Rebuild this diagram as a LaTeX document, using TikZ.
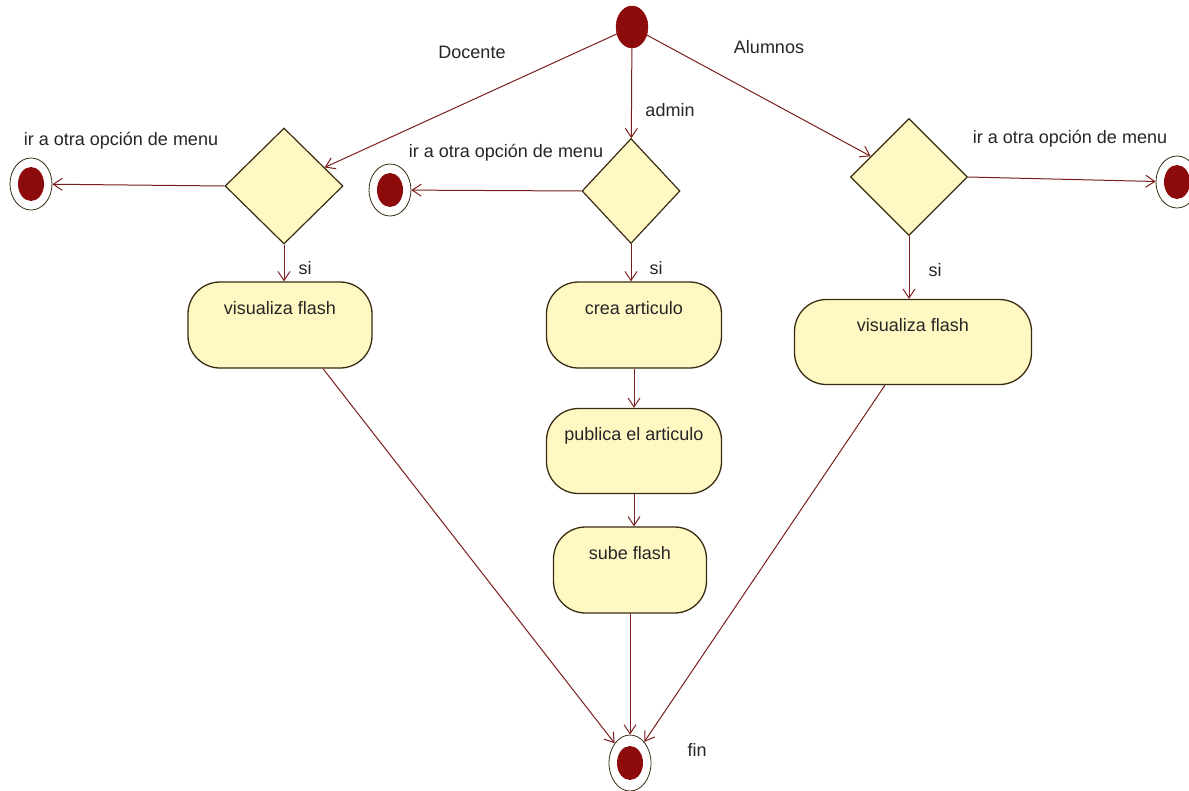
\documentclass[tikz,border=0pt]{standalone}
\usepackage{fontspec}
\setmainfont{Liberation Sans}
\usetikzlibrary{shapes.geometric,arrows.meta,calc}
\definecolor{edgec}{HTML}{7B1E1E}
\definecolor{bordc}{HTML}{3A2C14}
\definecolor{fillc}{HTML}{FFF8C2}
\definecolor{dotc}{HTML}{8E0B0B}
\definecolor{textc}{HTML}{262626}
\tikzset{
  flow/.style={draw=edgec, line width=1pt, -{Straight Barb[length=9pt,width=12pt,line width=1pt]}},
  act/.style={draw=bordc, fill=fillc, line width=1.3pt, rounded corners=32pt, minimum height=86pt, text height=13pt, text depth=34pt, inner xsep=0pt, text=textc},
  dec/.style={diamond, draw=bordc, fill=fillc, line width=1.2pt, inner sep=0pt},
  startnode/.style={ellipse, fill=dotc, draw=dotc, minimum width=32pt, minimum height=42pt, inner sep=0pt},
  endouter/.style={ellipse, draw=bordc, fill=white, line width=0.8pt, minimum width=42pt, minimum height=52pt, inner sep=0pt},
  enddot/.style={ellipse, fill=dotc, minimum width=26pt, minimum height=34pt, inner sep=0pt},
  lbl/.style={text=textc, inner sep=0pt}
}
\begin{document}
\begin{tikzpicture}[x=1pt,y=-1pt,font=\fontsize{18}{21}\selectfont]
\useasboundingbox[fill=white] (0,0) rectangle (1189,790);

% start
\node[startnode] (start) at (632,27) {};

% decisions
\node[dec, minimum width=118pt, minimum height=116pt] (ldia) at (284,186) {};
\node[dec, minimum width=98pt, minimum height=105pt] (mdia) at (631,191) {};
\node[dec, minimum width=117pt, minimum height=117pt] (rdia) at (909,177) {};

% final nodes
\node[endouter] (lfin) at (31,184) {};
\node[enddot] (lfindot) at (lfin) {};
\node[endouter] (mfin) at (390,190) {};
\node[enddot] (mfindot) at (mfin) {};
\node[endouter] (rfin) at (1177,182) {};
\node[enddot] (rfindot) at (rfin) {};
\node[endouter, minimum height=56pt] (fin) at (630,763) {};
\node[enddot] (findot) at (fin) {};

% actions
\node[act, minimum width=184pt] (lvis) at (280,325) {visualiza flash};
\node[act, minimum width=175pt] (crea) at (634,325) {crea articulo};
\node[act, minimum width=175pt, minimum height=85pt] (pub) at (634,451) {publica el articulo};
\node[act, minimum width=153pt] (sube) at (630,570) {sube flash};
\node[act, minimum width=237pt, minimum height=85pt] (rvis) at (913,342) {visualiza flash};

% edges
\draw[flow] (start) -- (ldia);
\draw[flow] (start) -- (mdia);
\draw[flow] (start) -- (rdia);
\draw[flow] (ldia.west) -- (lfin);
\draw[flow] (mdia.west) -- (mfin);
\draw[flow] (rdia.east) -- (rfin);
\draw[flow] (ldia.south) -- (ldia.south |- lvis.north);
\draw[flow] (mdia.south) -- (mdia.south |- crea.north);
\draw[flow] (rdia.south) -- (rdia.south |- rvis.north);
\draw[flow] (crea.south) -- (pub.north);
\draw[flow] (pub.south) -- (pub.south |- sube.north);
\draw[flow] (sube.south) -- (fin);
\draw[flow] ([xshift=43pt]lvis.south) -- (fin);
\draw[flow] ([xshift=-28pt]rvis.south) -- (fin);

% labels
\node[lbl] (tdocente) at (472,52) {Docente};
\node[lbl] (talumnos) at (769,47) {Alumnos};
\node[lbl] (tadmin) at (670,110) {admin};
\node[lbl] (tsi1) at (305,268) {si};
\node[lbl] (tsi2) at (656,268) {si};
\node[lbl] (tsi3) at (935,270) {si};
\node[lbl] (tmenu1) at (121,141) {ir a otra opción de menu};
\node[lbl] (tmenu2) at (506,153) {ir a otra opción de menu};
\node[lbl] (tmenu3) at (1070,139) {ir a otra opción de menu};
\node[lbl] (tfin) at (697,750) {fin};
\end{tikzpicture}
\end{document}
